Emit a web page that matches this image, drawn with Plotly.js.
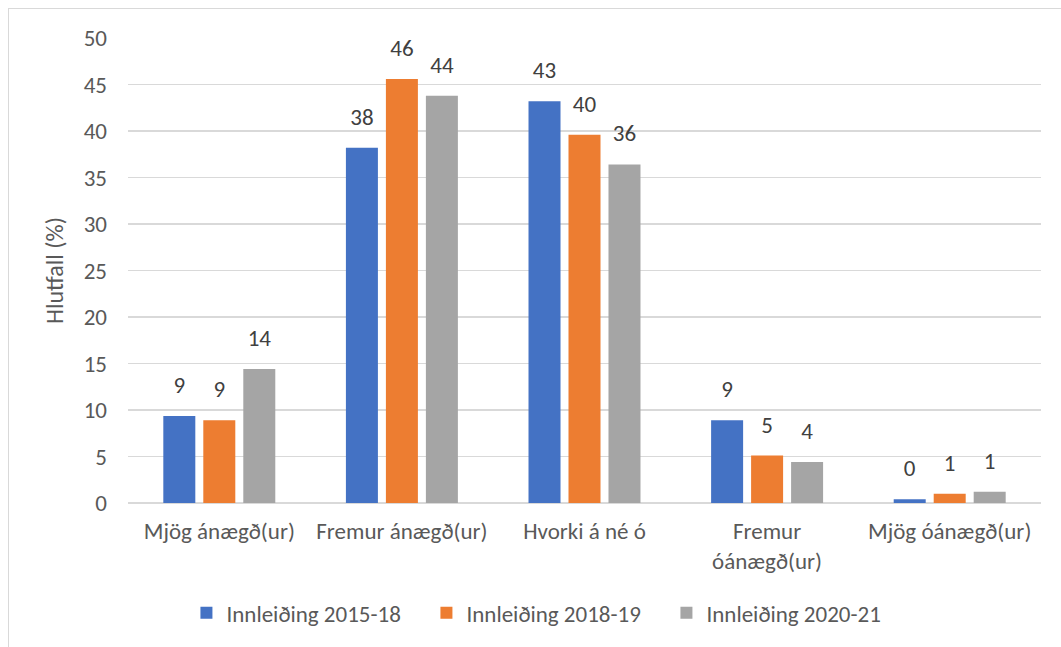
<!DOCTYPE html>
<html>
<head>
<meta charset="utf-8">
<script src="https://cdn.plot.ly/plotly-3.0.1.min.js"></script>
<style>
html,body{margin:0;padding:0;overflow:hidden;background:#fff;}
#chart{width:1061px;height:647px;position:absolute;left:0;top:0;}
#frame{position:absolute;left:8px;top:8px;width:1100px;height:700px;border:1px solid #d9d9d9;pointer-events:none;}
</style>
</head>
<body>
<div id="chart"></div>
<div id="frame"></div>
<script>
const categories = ["Mjög ánægð(ur)", "Fremur ánægð(ur)", "Hvorki á né ó", "Fremur<br>óánægð(ur)", "Mjög óánægð(ur)"];
const seriesNames = ["Innleiðing 2015-18", "Innleiðing 2018-19", "Innleiðing 2020-21"];
const values2015 = [9.35, 38.2, 43.2, 8.9, 0.4];
const values2018 = [8.9, 45.6, 39.6, 5.1, 1.0];
const values2020 = [14.4, 43.8, 36.4, 4.4, 1.2];
const colors = ["#4472c4", "#ed7d31", "#a5a5a5"];
const yTicks = [0, 5, 10, 15, 20, 25, 30, 35, 40, 45, 50];

const FONT = "Carlito, Calibri, 'Noto Sans', sans-serif";
const TXT = "#595959";
const FS = 23;

const allVals = [values2015, values2018, values2020];
const barTraces = allVals.map((v, i) => ({
  type: "bar",
  name: seriesNames[i],
  x: categories,
  y: v,
  marker: {color: colors[i]},
  hoverinfo: "skip"
}));
const labelTraces = allVals.map((v, i) => ({
  type: "scatter",
  mode: "markers+text",
  x: categories,
  y: v,
  text: v.map(d => String(Math.round(d))),
  textposition: "top center",
  marker: {size: 26, opacity: 0, color: colors[i]},
  textfont: {family: FONT, size: FS, color: "#404040"},
  cliponaxis: false,
  showlegend: false,
  hoverinfo: "skip"
}));

const layout = {
  width: 1061, height: 647,
  margin: {l: 128, r: 20, t: 38, b: 144},
  paper_bgcolor: "#fff", plot_bgcolor: "#fff",
  barmode: "group",
  scattermode: "group",
  bargap: 0.343,
  bargroupgap: 0.2,
  scattergap: 0.343,
  font: {family: FONT, color: TXT},
  showlegend: true,
  legend: {
    orientation: "h", x: 0.064, xanchor: "left", y: -0.19, yanchor: "top",
    font: {family: FONT, size: FS, color: TXT},
    itemwidth: 30, traceorder: "normal",
    entrywidth: 195, entrywidthmode: "pixels"
  },
  xaxis: {
    type: "category",
    tickfont: {family: FONT, size: FS, color: TXT},
    showgrid: false, showline: false, ticks: "",
    zeroline: false,
    ticklabelstandoff: 12
  },
  yaxis: {
    range: [0, 50],
    tickvals: yTicks,
    ticktext: yTicks.map(String),
    tickfont: {family: FONT, size: FS, color: TXT},
    showgrid: true, gridcolor: "#d9d9d9", gridwidth: 1.5,
    zeroline: true, zerolinecolor: "#d9d9d9", zerolinewidth: 1.5,
    showline: false, ticks: "",
    ticklabelstandoff: 20,
    title: {text: "Hlutfall (%)", font: {family: FONT, size: 24, color: TXT}, standoff: 13}
  }
};

Plotly.newPlot("chart", barTraces.concat(labelTraces), layout, {displayModeBar: false, staticPlot: true});
</script>
</body>
</html>
